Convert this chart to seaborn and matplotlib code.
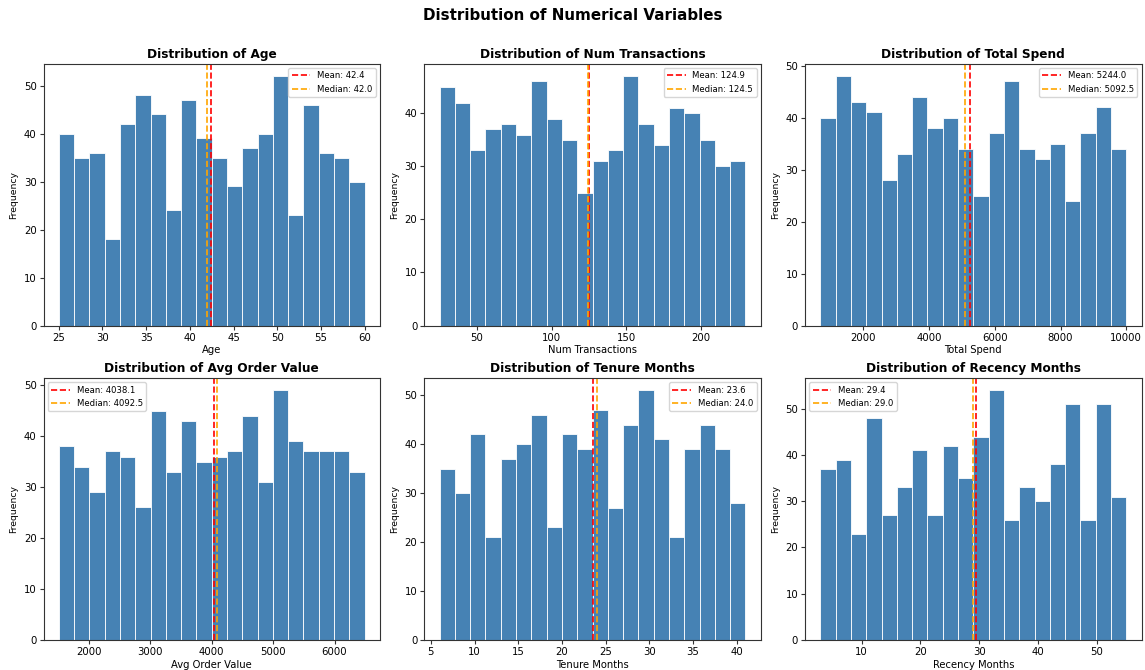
import numpy as np
import pandas as pd
import matplotlib
matplotlib.use("Agg")
import matplotlib.pyplot as plt
import seaborn as sns

# ---- data ----
variables = ["Age", "Num Transactions", "Total Spend",
             "Avg Order Value", "Tenure Months", "Recency Months"]

age_range = (25, 60)
age_counts = [40, 35, 36, 18, 42, 48, 44, 24, 47, 39, 35, 29, 37, 40, 52, 23, 46, 36, 35, 30]
age_mean, age_median = 42.4, 42.0

tx_range = (25, 230)
tx_counts = [45, 42, 33, 37, 38, 36, 46, 39, 35, 25, 31, 33, 47, 38, 34, 41, 40, 35, 30, 31]
tx_mean, tx_median = 124.9, 124.5

spend_range = (700, 10000)
spend_counts = [40, 48, 43, 41, 28, 33, 44, 38, 40, 34, 25, 37, 47, 34, 32, 35, 24, 37, 42, 34]
spend_mean, spend_median = 5244.0, 5092.5

aov_range = (1510, 6490)
aov_counts = [38, 34, 29, 37, 36, 26, 45, 33, 43, 35, 36, 37, 44, 31, 49, 39, 37, 37, 37, 33]
aov_mean, aov_median = 4038.1, 4092.5

tenure_range = (6, 41)
tenure_counts = [35, 30, 42, 21, 37, 40, 46, 23, 42, 39, 47, 27, 44, 51, 41, 21, 39, 44, 39, 28]
tenure_mean, tenure_median = 23.6, 24.0

recency_range = (3, 55)
recency_counts = [37, 39, 23, 48, 27, 33, 41, 27, 42, 35, 44, 54, 26, 33, 30, 38, 51, 26, 51, 31]
recency_mean, recency_median = 29.4, 29.0

ranges = [age_range, tx_range, spend_range, aov_range, tenure_range, recency_range]
counts = [age_counts, tx_counts, spend_counts, aov_counts, tenure_counts, recency_counts]
means = [age_mean, tx_mean, spend_mean, aov_mean, tenure_mean, recency_mean]
medians = [age_median, tx_median, spend_median, aov_median, tenure_median, recency_median]
legend_locs = ["upper right", "upper right", "upper right",
               "upper left", "upper right", "upper left"]

plt.rcParams["font.family"] = ["DejaVu Sans"]
plt.rcParams["axes.edgecolor"] = "#333333"
plt.rcParams["axes.linewidth"] = 0.8

fig, axes = plt.subplots(2, 3, figsize=(11.45, 6.7), dpi=100)
fig.subplots_adjust(left=0.038, right=0.997, top=0.905, bottom=0.045,
                    wspace=0.132, hspace=0.2)

for ax, name, rng, cnt, mu, med, loc in zip(axes.flat, variables, ranges, counts,
                                           means, medians, legend_locs):
    n = len(cnt)
    width = (rng[1] - rng[0]) / n
    centers = [rng[0] + width * (i + 0.5) for i in range(n)]
    df = pd.DataFrame({name: centers, "count": cnt})
    sns.histplot(data=df, x=name, weights="count", bins=n, binrange=rng, ax=ax,
                 color="steelblue", edgecolor="white", linewidth=0.6, alpha=1.0)
    ax.axvline(mu, color="red", linestyle="--", linewidth=1.2, label=f"Mean: {mu:.1f}")
    ax.axvline(med, color="orange", linestyle="--", linewidth=1.2, label=f"Median: {med:.1f}")
    ax.set_title(f"Distribution of {name}", fontsize=8.7, fontweight="bold", pad=4)
    ax.set_xlabel(name, fontsize=7.2, labelpad=2)
    ax.set_ylabel("Frequency", fontsize=6.7, labelpad=4)
    ax.tick_params(labelsize=7.3, length=3, pad=2, color="#333333")
    ax.legend(loc=loc, fontsize=6.1, frameon=True, handlelength=2.2)

fig.suptitle("Distribution of Numerical Variables", fontsize=10.9, fontweight="bold", y=0.988)
fig.savefig("out.png", dpi=100)
